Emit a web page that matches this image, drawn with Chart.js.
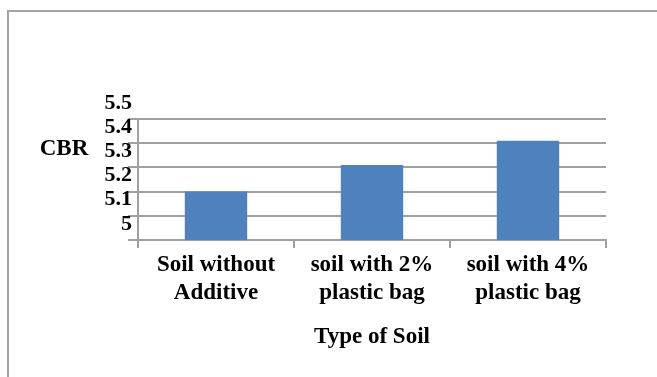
<!DOCTYPE html>
<html>
<head>
<meta charset="utf-8">
<script src="https://cdn.jsdelivr.net/npm/chart.js@4.4.1/dist/chart.umd.min.js"></script>
<style>
  html, body { margin: 0; padding: 0; background: #fff; overflow: hidden; }
  #wrap { position: relative; width: 657px; height: 377px; }
  #frame { position: absolute; left: 7px; top: 10px; width: 720px; height: 430px;
           border: 2px solid #a3a3a3; box-sizing: border-box; }
  #c { position: absolute; left: 0; top: 0; }
</style>
</head>
<body>
<div id="wrap">
  <div id="frame"></div>
  <canvas id="c" width="657" height="377"></canvas>
</div>
<script>
// Soil types (two-line labels) and their CBR values
const categories = [
  ["Soil without", "Additive"],
  ["soil with 2%", "plastic bag"],
  ["soil with 4%", "plastic bag"]
];
const cbrValues = [5.2, 5.31, 5.41];
const yTickValues = [5, 5.1, 5.2, 5.3, 5.4, 5.5];
const yAxisTitle = "CBR";
const xAxisTitle = "Type of Soil";

const FONT = '"Liberation Serif", "Times New Roman", serif';
const GRID = '#a0a0a0';

// Horizontal "CBR" caption to the left of the value axis
const sideTitle = {
  id: 'sideTitle',
  afterDraw(chart) {
    const ctx = chart.ctx;
    ctx.save();
    ctx.font = 'bold 23px ' + FONT;
    ctx.fillStyle = '#000';
    ctx.textAlign = 'center';
    ctx.textBaseline = 'middle';
    ctx.fillText(yAxisTitle, 64, chart.chartArea.top + 30);
    ctx.restore();
  }
};

new Chart(document.getElementById('c'), {
  type: 'bar',
  data: {
    labels: categories,
    datasets: [{
      data: cbrValues,
      backgroundColor: '#4f81bd',
      borderWidth: 0,
      barPercentage: 0.4,
      categoryPercentage: 1.0
    }]
  },
  options: {
    responsive: false,
    animation: false,
    devicePixelRatio: 1,
    layout: { padding: { top: 119, right: 51, left: 0, bottom: 0 } },
    plugins: { legend: { display: false }, tooltip: { enabled: false } },
    scales: {
      x: {
        afterFit(scale) { scale.height = 137; },
        grid: { drawOnChartArea: false, color: GRID, lineWidth: 2, tickLength: 8, offset: true },
        border: { color: GRID, width: 2 },
        ticks: {
          color: '#000',
          font: { family: FONT, size: 23, weight: 'bold', lineHeight: 1.22 },
          padding: 3,
          maxRotation: 0,
          autoSkip: false
        },
        title: {
          display: true,
          text: xAxisTitle,
          color: '#000',
          font: { family: FONT, size: 23, weight: 'bold' },
          padding: { top: 0, bottom: 26 }
        }
      },
      y: {
        min: 5,
        max: 5.5,
        afterFit(scale) { scale.width = 138; },
        afterBuildTicks(scale) { scale.ticks = yTickValues.map(v => ({ value: v })); },
        grid: { color: GRID, lineWidth: 2, tickLength: 10 },
        border: { color: GRID, width: 2 },
        ticks: {
          color: '#000',
          font: { family: FONT, size: 22, weight: 'bold' },
          padding: -4,
          labelOffset: -16,
          autoSkip: false,
          callback: v => String(v)
        }
      }
    }
  },
  plugins: [sideTitle]
});
</script>
</body>
</html>
